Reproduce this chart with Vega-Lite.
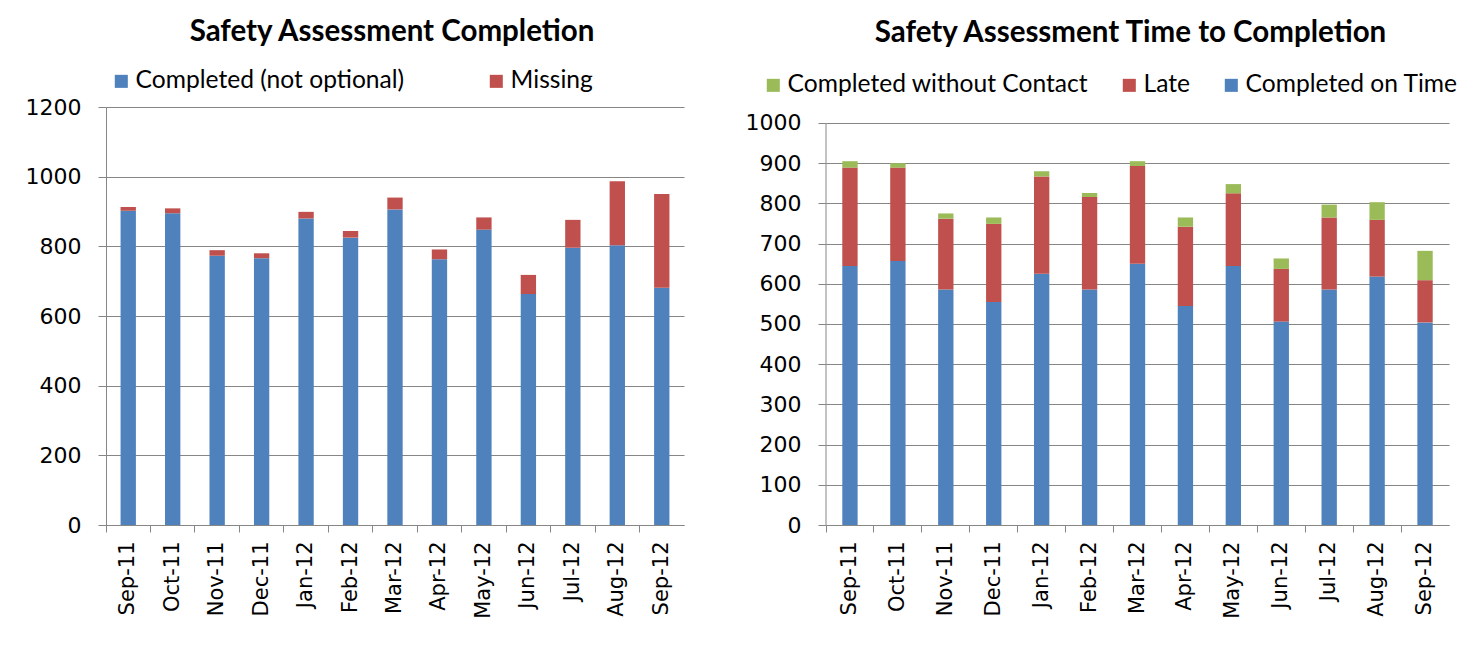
{
  "$schema": "https://vega.github.io/schema/vega-lite/v6.json",
  "background": "white",
  "padding": {"left": 25, "top": 16, "right": 5, "bottom": 5},
  "spacing": 61,
  "resolve": {"scale": {"color": "independent", "y": "independent", "x": "independent"}, "legend": {"color": "independent"}},
  "config": {
    "font": "Lato",
    "view": {"stroke": null},
    "axis": {
      "domainColor": "#868686",
      "tickColor": "#868686",
      "gridColor": "#868686",
      "labelColor": "#000000",
      "labelFont": "DejaVu Sans",
      "labelFontSize": 22,
      "tickSize": 8,
      "title": null
    },
    "legend": {
      "symbolType": "square",
      "symbolSize": 170,
      "symbolStrokeWidth": 0,
      "symbolOpacity": 1,
      "labelFont": "Lato",
      "labelFontSize": 24.6,
      "labelColor": "#000000",
      "labelOffset": 2,
      "labelLimit": 500,
      "direction": "horizontal",
      "orient": "none",
      "title": null
    },
    "title": {"font": "Lato", "fontSize": 29.5, "fontWeight": "bold", "color": "#000000", "anchor": "middle", "frame": "group"}
  },
  "datasets": {
    "completion": [
      {"month": "Sep-11", "series": "Completed (not optional)", "value": 902},
      {"month": "Sep-11", "series": "Missing", "value": 11},
      {"month": "Oct-11", "series": "Completed (not optional)", "value": 895},
      {"month": "Oct-11", "series": "Missing", "value": 14},
      {"month": "Nov-11", "series": "Completed (not optional)", "value": 773},
      {"month": "Nov-11", "series": "Missing", "value": 16},
      {"month": "Dec-11", "series": "Completed (not optional)", "value": 766},
      {"month": "Dec-11", "series": "Missing", "value": 14},
      {"month": "Jan-12", "series": "Completed (not optional)", "value": 880},
      {"month": "Jan-12", "series": "Missing", "value": 19},
      {"month": "Feb-12", "series": "Completed (not optional)", "value": 825},
      {"month": "Feb-12", "series": "Missing", "value": 19},
      {"month": "Mar-12", "series": "Completed (not optional)", "value": 906},
      {"month": "Mar-12", "series": "Missing", "value": 34},
      {"month": "Apr-12", "series": "Completed (not optional)", "value": 763},
      {"month": "Apr-12", "series": "Missing", "value": 28},
      {"month": "May-12", "series": "Completed (not optional)", "value": 848},
      {"month": "May-12", "series": "Missing", "value": 35},
      {"month": "Jun-12", "series": "Completed (not optional)", "value": 663},
      {"month": "Jun-12", "series": "Missing", "value": 55},
      {"month": "Jul-12", "series": "Completed (not optional)", "value": 796},
      {"month": "Jul-12", "series": "Missing", "value": 80},
      {"month": "Aug-12", "series": "Completed (not optional)", "value": 803},
      {"month": "Aug-12", "series": "Missing", "value": 184},
      {"month": "Sep-12", "series": "Completed (not optional)", "value": 681},
      {"month": "Sep-12", "series": "Missing", "value": 269}
    ],
    "timing": [
      {"month": "Sep-11", "series": "Completed on Time", "value": 644},
      {"month": "Sep-11", "series": "Late", "value": 245},
      {"month": "Sep-11", "series": "Completed without Contact", "value": 16},
      {"month": "Oct-11", "series": "Completed on Time", "value": 657},
      {"month": "Oct-11", "series": "Late", "value": 232},
      {"month": "Oct-11", "series": "Completed without Contact", "value": 11},
      {"month": "Nov-11", "series": "Completed on Time", "value": 586},
      {"month": "Nov-11", "series": "Late", "value": 176},
      {"month": "Nov-11", "series": "Completed without Contact", "value": 13},
      {"month": "Dec-11", "series": "Completed on Time", "value": 555},
      {"month": "Dec-11", "series": "Late", "value": 194},
      {"month": "Dec-11", "series": "Completed without Contact", "value": 16},
      {"month": "Jan-12", "series": "Completed on Time", "value": 625},
      {"month": "Jan-12", "series": "Late", "value": 242},
      {"month": "Jan-12", "series": "Completed without Contact", "value": 13},
      {"month": "Feb-12", "series": "Completed on Time", "value": 586},
      {"month": "Feb-12", "series": "Late", "value": 230},
      {"month": "Feb-12", "series": "Completed without Contact", "value": 10},
      {"month": "Mar-12", "series": "Completed on Time", "value": 650},
      {"month": "Mar-12", "series": "Late", "value": 243},
      {"month": "Mar-12", "series": "Completed without Contact", "value": 12},
      {"month": "Apr-12", "series": "Completed on Time", "value": 545},
      {"month": "Apr-12", "series": "Late", "value": 197},
      {"month": "Apr-12", "series": "Completed without Contact", "value": 23},
      {"month": "May-12", "series": "Completed on Time", "value": 644},
      {"month": "May-12", "series": "Late", "value": 181},
      {"month": "May-12", "series": "Completed without Contact", "value": 23},
      {"month": "Jun-12", "series": "Completed on Time", "value": 506},
      {"month": "Jun-12", "series": "Late", "value": 131},
      {"month": "Jun-12", "series": "Completed without Contact", "value": 26},
      {"month": "Jul-12", "series": "Completed on Time", "value": 586},
      {"month": "Jul-12", "series": "Late", "value": 179},
      {"month": "Jul-12", "series": "Completed without Contact", "value": 32},
      {"month": "Aug-12", "series": "Completed on Time", "value": 618},
      {"month": "Aug-12", "series": "Late", "value": 141},
      {"month": "Aug-12", "series": "Completed without Contact", "value": 44},
      {"month": "Sep-12", "series": "Completed on Time", "value": 504},
      {"month": "Sep-12", "series": "Late", "value": 105},
      {"month": "Sep-12", "series": "Completed without Contact", "value": 73}
    ]
  },
  "hconcat": [
    {
      "width": 578,
      "height": 418,
      "title": {"text": "Safety Assessment Completion", "offset": 22, "dx": -3},
      "data": {"name": "completion"},
      "mark": {"type": "bar", "width": {"band": 0.345}},
      "encoding": {
        "x": {
          "field": "month", "type": "ordinal",
          "sort": ["Sep-11","Oct-11","Nov-11","Dec-11","Jan-12","Feb-12","Mar-12","Apr-12","May-12","Jun-12","Jul-12","Aug-12","Sep-12"],
          "scale": {"paddingInner": 0, "paddingOuter": 0},
          "axis": {"labelAngle": -90, "labelAlign": "right", "labelBaseline": "middle", "bandPosition": 0, "labelPadding": 9, "labelFontSize": 21, "tickSize": 7}
        },
        "y": {
          "field": "value", "type": "quantitative", "stack": "zero",
          "scale": {"domain": [0, 1200], "nice": false},
          "axis": {"values": [0, 200, 400, 600, 800, 1000, 1200], "format": "d", "grid": true, "labelPadding": 17}
        },
        "order": {"field": "value", "type": "quantitative", "sort": "descending"},
        "color": {
          "field": "series", "type": "nominal",
          "scale": {"domain": ["Completed (not optional)", "Missing"], "range": ["#4F81BD", "#C0504D"]},
          "legend": {"legendX": 3, "legendY": -38, "columnPadding": 79}
        }
      }
    },
    {
      "width": 623,
      "height": 418,
      "title": {"text": "Safety Assessment Time to Completion", "offset": 25, "dx": -7},
      "layer": [
        {
          "data": {"name": "timing"},
          "mark": {"type": "bar", "width": {"band": 0.32}},
          "encoding": {
            "x": {
              "field": "month", "type": "ordinal",
              "sort": ["Sep-11","Oct-11","Nov-11","Dec-11","Jan-12","Feb-12","Mar-12","Apr-12","May-12","Jun-12","Jul-12","Aug-12","Sep-12"],
              "scale": {"paddingInner": 0, "paddingOuter": 0},
              "axis": {"labelAngle": -90, "labelAlign": "right", "labelBaseline": "middle", "bandPosition": 0, "labelPadding": 9, "labelFontSize": 21, "tickSize": 7}
            },
            "y": {
              "field": "value", "type": "quantitative", "stack": "zero",
              "scale": {"domain": [0, 1039.8], "nice": false},
              "axis": {"values": [0, 100, 200, 300, 400, 500, 600, 700, 800, 900, 1000], "format": "d", "grid": true, "domain": false, "labelPadding": 17}
            },
            "order": {"field": "value", "type": "quantitative", "sort": "descending"},
            "color": {
              "field": "series", "type": "nominal",
              "scale": {"domain": ["Completed without Contact", "Late", "Completed on Time"], "range": ["#9BBB59", "#C0504D", "#4F81BD"]},
              "legend": {"legendX": -65, "legendY": -34, "columnPadding": 28}
            }
          }
        },
        {
          "data": {"values": [{"axis": "y"}]},
          "mark": {"type": "rule", "color": "#868686", "strokeWidth": 1},
          "encoding": {
            "x": {"datum": "Sep-11", "type": "ordinal", "bandPosition": 0},
            "y": {"datum": 0, "type": "quantitative"},
            "y2": {"datum": 1000}
          }
        }
      ]
    }
  ]
}
